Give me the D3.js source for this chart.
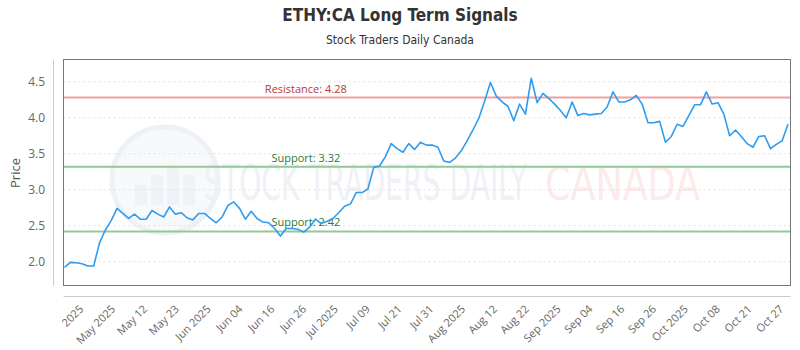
<!DOCTYPE html>
<html>
<head>
<meta charset="utf-8">
<script src="https://cdn.jsdelivr.net/npm/d3@7"></script>
<style>
  body { margin: 0; background: #fff; }
  svg { display: block; }
</style>
</head>
<body>
<svg id="chart" width="800" height="350"></svg>
<script>
// closing prices, one per trading day
const prices = [
  1.92, 1.99, 1.985, 1.97, 1.94, 1.94, 2.26, 2.44, 2.57, 2.74,
  2.67, 2.60, 2.66, 2.59, 2.59, 2.71, 2.66, 2.62, 2.76, 2.66,
  2.68, 2.61, 2.58, 2.67, 2.67, 2.60, 2.54, 2.62, 2.78, 2.83,
  2.74, 2.59, 2.70, 2.60, 2.55, 2.54, 2.46, 2.355, 2.46, 2.46,
  2.45, 2.41, 2.48, 2.59, 2.53, 2.56, 2.60, 2.68, 2.77, 2.80,
  2.96, 2.96, 3.01, 3.31, 3.33, 3.46, 3.64, 3.57, 3.52, 3.64,
  3.56, 3.66, 3.62, 3.62, 3.59, 3.40, 3.38, 3.44, 3.54, 3.68,
  3.83, 3.99, 4.23, 4.49, 4.30, 4.22, 4.16, 3.96, 4.19, 4.05,
  4.55, 4.21, 4.34, 4.27, 4.19, 4.10, 4.00, 4.22, 4.03, 4.06,
  4.04, 4.05, 4.06, 4.15, 4.36, 4.22, 4.22, 4.25, 4.31, 4.19,
  3.93, 3.93, 3.95, 3.66, 3.74, 3.91, 3.88, 4.03, 4.18, 4.18,
  4.36, 4.19, 4.21, 4.05, 3.75, 3.83, 3.74, 3.64, 3.59, 3.74,
  3.75, 3.57, 3.63, 3.68, 3.91
];

const tickLabels = [
  '2025', 'May 2025', 'May 12', 'May 23', 'Jun 2025', 'Jun 04', 'Jun 16',
  'Jun 26', 'Jul 2025', 'Jul 09', 'Jul 21', 'Jul 31', 'Aug 2025', 'Aug 12',
  'Aug 22', 'Sep 2025', 'Sep 04', 'Sep 16', 'Sep 26', 'Oct 2025', 'Oct 08',
  'Oct 21', 'Oct 27'
];

const yTicks = [2.0, 2.5, 3.0, 3.5, 4.0, 4.5];

const levelNames = ['Resistance', 'Support', 'Support'];
const levelValues = [4.28, 3.32, 2.42];
const levelKinds = ['res', 'sup', 'sup'];

const svg = d3.select('#chart');
const plot = { left: 63.5, right: 790.5, top: 59.5, bottom: 285.5 };

const x = d3.scaleLinear()
    .domain([0, prices.length - 1])
    .range([plot.left + 1, plot.right - 2.5]);

const y = d3.scaleLinear()
    .domain([1.668, 4.81])
    .range([plot.bottom, plot.top]);

const xLabels = d3.scalePoint()
    .domain(tickLabels)
    .range([80, 780]);

// titles
svg.append('text')
    .attr('x', 400).attr('y', 21)
    .attr('text-anchor', 'middle')
    .style('font-family', '"Liberation Sans Narrow", "DejaVu Sans Condensed", sans-serif')
    .style('font-weight', 'bold')
    .style('font-size', '17px')
    .style('fill', '#333')
    .text('ETHY:CA Long Term Signals');

svg.append('text')
    .attr('x', 400).attr('y', 44)
    .attr('text-anchor', 'middle')
    .style('font-family', '"Liberation Sans Narrow", "DejaVu Sans Condensed", sans-serif')
    .style('font-size', '12px')
    .style('fill', '#333')
    .text('Stock Traders Daily Canada');

// watermark
const wm = svg.append('g').attr('opacity', 0.6);
wm.append('circle')
    .attr('cx', 165).attr('cy', 180).attr('r', 53)
    .attr('fill', '#f3f6fa')
    .attr('stroke', '#e3eaf3').attr('stroke-width', 5);
[[-30, 20], [-14, 30], [2, 38], [18, 30]].forEach(([dx, h]) => {
  wm.append('rect')
      .attr('x', 165 + dx).attr('y', 205 - h)
      .attr('width', 12).attr('height', h)
      .attr('fill', '#e6ebf2');
});
wm.append('text')
    .attr('x', 204).attr('y', 200)
    .attr('textLength', 323).attr('lengthAdjust', 'spacingAndGlyphs')
    .style('font-family', '"DejaVu Sans Condensed", sans-serif')
    .style('font-size', '50px')
    .style('fill', '#e4e9f0')
    .text('STOCK TRADERS DAILY');
wm.append('text')
    .attr('x', 545).attr('y', 200)
    .attr('textLength', 155).attr('lengthAdjust', 'spacingAndGlyphs')
    .style('font-family', '"DejaVu Sans", sans-serif')
    .style('font-size', '46px')
    .style('fill', '#fcdede')
    .text('CANADA');

// grid
svg.append('g')
    .selectAll('line')
    .data(yTicks)
    .enter().append('line')
    .attr('x1', plot.left).attr('x2', plot.right)
    .attr('y1', d => y(d)).attr('y2', d => y(d))
    .attr('stroke', '#e2e2e2')
    .attr('stroke-dasharray', '2,3');

// y axis
svg.append('line')
    .attr('x1', 53.5).attr('x2', 53.5)
    .attr('y1', plot.top).attr('y2', plot.bottom)
    .attr('stroke', '#ccc');

const yAxis = svg.append('g')
    .attr('transform', 'translate(53,0)')
    .call(d3.axisLeft(y).tickValues(yTicks).tickSize(0).tickPadding(8).tickFormat(d3.format('.1f')));
yAxis.select('.domain').remove();
yAxis.selectAll('text')
    .style('font-family', '"Open Sans", sans-serif')
    .style('font-size', '12px')
    .style('fill', '#666');

svg.append('text')
    .attr('transform', 'translate(20,173) rotate(-90)')
    .attr('text-anchor', 'middle')
    .style('font-family', '"Open Sans", sans-serif')
    .style('font-size', '13px')
    .style('fill', '#555')
    .text('Price');

// x axis
svg.append('line')
    .attr('x1', plot.left).attr('x2', plot.right)
    .attr('y1', 296.5).attr('y2', 296.5)
    .attr('stroke', '#ccc');

const xAxis = svg.append('g')
    .attr('transform', 'translate(0,296)')
    .call(d3.axisBottom(xLabels).tickSize(0));
xAxis.select('.domain').remove();
xAxis.selectAll('text')
    .attr('x', 0).attr('y', 0).attr('dy', '0.35em')
    .attr('text-anchor', 'end')
    .attr('transform', 'translate(1,11) rotate(-45)')
    .style('font-family', '"Open Sans", sans-serif')
    .style('font-size', '11px')
    .style('fill', '#666');

// support / resistance levels
const levels = svg.append('g');
levelValues.forEach((v, i) => {
  const res = levelKinds[i] === 'res';
  levels.append('line')
      .attr('x1', plot.left).attr('x2', plot.right)
      .attr('y1', y(v)).attr('y2', y(v))
      .attr('stroke', res ? '#f2a0a0' : '#93c993')
      .attr('stroke-width', 2);
  levels.append('text')
      .attr('x', plot.left + (plot.right - plot.left) / 3)
      .attr('y', y(v) - 5)
      .attr('text-anchor', 'middle')
      .style('font-family', '"Open Sans", sans-serif')
      .style('font-size', '11px')
      .style('fill', res ? '#b23b3b' : '#2f7a2f')
      .text(levelNames[i] + ': ' + v.toFixed(2));
});

// price line
const line = d3.line()
    .x((d, i) => x(i))
    .y(d => y(d));

svg.append('path')
    .datum(prices)
    .attr('fill', 'none')
    .attr('stroke', '#2f9cf0')
    .attr('stroke-width', 1.6)
    .attr('stroke-linejoin', 'round')
    .attr('d', line);

// plot frame
svg.append('rect')
    .attr('x', plot.left).attr('y', plot.top)
    .attr('width', plot.right - plot.left)
    .attr('height', plot.bottom - plot.top)
    .attr('fill', 'none')
    .attr('stroke', '#777');
</script>
</body>
</html>
